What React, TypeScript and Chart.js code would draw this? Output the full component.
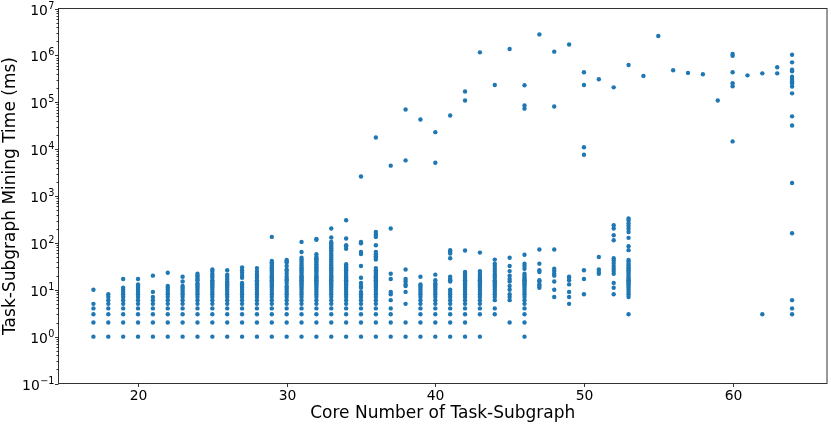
import React, { useRef, useEffect } from 'react';
import { Chart, registerables } from 'chart.js';

Chart.register(...registerables);

// core number of each task-subgraph group
const coreNumbers = [
  17, 18, 19, 20, 21, 22, 23, 24, 25, 26, 27, 28, 29, 30, 31, 32,
  33, 34, 35, 36, 37, 38, 39, 40, 41, 42, 43, 44, 45, 46, 47, 48,
  49, 50, 51, 52, 53, 54, 55, 56, 57, 58, 59, 60, 61, 62, 63, 64,
];

// mining times (ms) per core number, same order as coreNumbers
const miningTimesMs: number[][] = [
  [1, 2, 3, 4, 5, 10],
  [1, 2, 3, 4, 5, 6, 7, 8],
  [1, 2, 3, 4, 5, 6, 7, 8, 9, 10, 11, 17],
  [1, 2, 3, 4, 5, 6, 7, 8, 9, 10, 11, 12, 13, 17],
  [1, 2, 3, 4, 5, 6, 7, 9, 20],
  [1, 2, 3, 4, 5, 6, 7, 8, 9, 10, 11, 12, 23],
  [1, 2, 3, 4, 5, 6, 7, 8, 9, 10, 11, 12, 15, 19],
  [1, 2, 3, 4, 5, 6, 7, 8, 9, 10, 11, 12, 13, 14, 16, 17, 19, 20, 22],
  [1, 2, 3, 4, 5, 6, 7, 8, 9, 10, 11, 12, 13, 14, 15, 16, 18, 20, 22, 25, 27],
  [1, 2, 3, 4, 5, 6, 7, 8, 9, 10, 11, 12, 13, 14, 15, 17, 19, 21, 26],
  [1, 2, 3, 4, 5, 6, 7, 8, 9, 10, 11, 12, 13, 14, 18, 20, 23, 26, 30],
  [1, 2, 3, 4, 5, 6, 7, 8, 9, 10, 11, 12, 13, 14, 15, 16, 18, 20, 22, 25, 29],
  [1, 2, 3, 4, 5, 6, 7, 8, 9, 10, 11, 12, 13, 14, 15, 16, 17, 18, 19, 20, 22, 24, 26, 28, 30, 33, 36, 38, 41, 134],
  [1, 2, 3, 4, 5, 6, 7, 8, 9, 10, 11, 12, 14, 16, 17, 19, 22, 25, 27, 32, 38, 40, 43],
  [1, 2, 3, 4, 5, 6, 7, 8, 9, 10, 11, 12, 13, 14, 15, 16, 17, 18, 19, 20, 22, 24, 26, 28, 30, 33, 36, 40, 44, 48, 64, 105],
  [1, 2, 3, 4, 5, 6, 7, 8, 9, 10, 11, 12, 13, 14, 15, 16, 17, 18, 19, 20, 22, 24, 26, 28, 30, 32, 35, 38, 41, 44, 47, 50, 57, 116, 121],
  [1, 2, 3, 4, 5, 6, 7, 8, 9, 10, 11, 12, 13, 14, 15, 16, 17, 18, 19, 20, 22, 24, 26, 28, 30, 33, 36, 40, 44, 48, 53, 58, 64, 70, 77, 84, 90, 97, 105, 130, 202],
  [1, 2, 3, 4, 5, 6, 7, 8, 9, 10, 11, 12, 13, 14, 15, 16, 17, 18, 19, 20, 22, 24, 26, 28, 30, 32, 35, 75, 85, 89, 124, 303],
  [1, 2, 3, 4, 5, 6, 7, 8, 9, 11, 12, 14, 18, 32, 58, 64, 98, 105, 2600],
  [1, 2, 3, 4, 5, 6, 7, 8, 9, 10, 11, 12, 13, 14, 15, 16, 17, 18, 19, 20, 22, 24, 26, 29, 44, 48, 52, 57, 64, 89, 134, 150, 171, 17700],
  [1, 2, 3, 4, 6, 8, 9, 17, 22, 202, 4440],
  [1, 2, 5, 9, 12, 13, 15, 17, 27, 5750, 70000],
  [1, 2, 3, 4, 5, 6, 7, 8, 9, 10, 11, 12, 13, 19, 42900],
  [1, 2, 3, 4, 5, 6, 7, 8, 9, 10, 11, 12, 13, 14, 16, 21, 5130, 23000],
  [1, 2, 3, 4, 5, 6, 7, 8, 9, 10, 15, 16, 17, 19, 47, 59, 65, 70, 52000],
  [1, 2, 3, 4, 5, 6, 7, 8, 9, 10, 11, 12, 13, 14, 15, 16, 17, 18, 20, 22, 24, 69, 109000, 169000],
  [1, 3, 4, 5, 6, 7, 8, 9, 10, 11, 12, 13, 14, 15, 16, 17, 18, 20, 22, 25, 62, 1160000],
  [3, 4, 6, 7, 8, 9, 10, 11, 12, 13, 14, 15, 16, 18, 20, 22, 25, 28, 32, 36, 44, 234000],
  [2, 6, 7, 8, 10, 12, 15, 17, 20, 25, 32, 48, 1370000],
  [1, 2, 3, 4, 5, 6, 7, 8, 9, 10, 11, 12, 13, 14, 15, 16, 17, 18, 20, 22, 28, 32, 36, 56, 73000, 85000, 230000],
  [11, 12, 13, 15, 16, 24, 26, 36, 72, 2800000],
  [7, 10, 15, 20, 22, 25, 28, 72, 81000, 1200000],
  [5, 7, 9, 13, 16, 18, 19, 1710000],
  [8, 17, 26, 7600, 11000, 234000, 435000],
  [22, 24, 27, 50, 309000],
  [8, 11, 14, 22, 25, 28, 32, 37, 42, 47, 114, 145, 202, 237, 208000],
  [3, 7, 8, 9, 10, 11, 12, 13, 14, 15, 16, 17, 18, 20, 22, 24, 26, 28, 30, 33, 36, 40, 43, 70, 85, 128, 171, 200, 230, 260, 300, 330, 625000],
  [365000],
  [2590000],
  [480000],
  [423000],
  [395000],
  [109000],
  [14600, 219000, 254000, 435000, 985000, 1070000],
  [375000],
  [3, 414000],
  [414000, 556000],
  [3, 4, 6, 160, 1890, 32000, 50000, 155000, 216000, 254000, 280000, 315000, 352000, 457000, 497000, 710000, 1030000],
];

const xTicks = [20, 30, 40, 50, 60];
const yTickExponents = [-1, 0, 1, 2, 3, 4, 5, 6, 7];
const xAxisTitle = 'Core Number of Task-Subgraph';
const yAxisTitle = 'Task-Subgraph Mining Time (ms)';

const FONT = '"DejaVu Sans", sans-serif';
const pointColor = '#1f77b4';
const spineColor = 'rgba(0,0,0,0.8)';

// draws the matplotlib-like frame, ticks, tick labels and axis titles
const axesPlugin = {
  id: 'mplAxes',
  afterDraw(chart: any) {
    const { ctx, chartArea: a, scales } = chart;
    const xs = scales.x;
    const ys = scales.y;
    ctx.save();

    // spines
    ctx.strokeStyle = spineColor;
    ctx.lineWidth = 1;
    ctx.strokeRect(a.left, a.top, a.right - a.left, a.bottom - a.top);

    // x ticks + labels
    ctx.fillStyle = '#000';
    ctx.font = `13.9px ${FONT}`;
    ctx.textAlign = 'center';
    ctx.textBaseline = 'alphabetic';
    xTicks.forEach((t) => {
      const px = Math.round(xs.getPixelForValue(t)) + 0.5;
      ctx.beginPath();
      ctx.moveTo(px, a.bottom);
      ctx.lineTo(px, a.bottom + 3.5);
      ctx.stroke();
      ctx.fillText(String(t), px, 399.5);
    });

    // y minor ticks
    yTickExponents.slice(0, -1).forEach((e) => {
      for (let m = 2; m <= 9; m++) {
        const py = Math.round(ys.getPixelForValue(m * Math.pow(10, e))) + 0.5;
        ctx.beginPath();
        ctx.moveTo(a.left, py);
        ctx.lineTo(a.left - 2, py);
        ctx.stroke();
      }
    });

    // y major ticks + labels 10^e
    yTickExponents.forEach((e) => {
      const py = Math.round(ys.getPixelForValue(Math.pow(10, e))) + 0.5;
      ctx.beginPath();
      ctx.moveTo(a.left, py);
      ctx.lineTo(a.left - 3.5, py);
      ctx.stroke();
      const right = 54.5;
      const expText = e < 0 ? '\u2212' + Math.abs(e) : String(e);
      ctx.textAlign = 'right';
      ctx.font = `9.7px ${FONT}`;
      ctx.fillText(expText, right, py - 0.5);
      const expW = ctx.measureText(expText).width;
      ctx.font = `13.9px ${FONT}`;
      ctx.fillText('10', right - expW - 0.5, py + 5.5);
    });

    // axis titles
    ctx.font = `17px ${FONT}`;
    ctx.textAlign = 'center';
    ctx.fillText(xAxisTitle, (a.left + a.right) / 2, 418.3);
    ctx.translate(14.5, (a.top + a.bottom) / 2);
    ctx.rotate(-Math.PI / 2);
    ctx.fillText(yAxisTitle, 0, 0);
    ctx.restore();
  },
};

const App: React.FC = () => {
  const canvasRef = useRef<HTMLCanvasElement>(null);

  useEffect(() => {
    document.body.style.margin = '0';
    if (!canvasRef.current) return;

    const points = coreNumbers.flatMap((core, i) =>
      miningTimesMs[i].map((t) => ({ x: core, y: t }))
    );

    const chart = new Chart(canvasRef.current, {
      type: 'scatter',
      data: {
        datasets: [
          {
            data: points,
            backgroundColor: pointColor,
            borderWidth: 0,
            pointRadius: 2.2,
          },
        ],
      },
      options: {
        responsive: true,
        maintainAspectRatio: false,
        animation: false,
        events: [],
        layout: { padding: { left: 58.5, right: 2.5, top: 8.5, bottom: 40.5 } },
        plugins: { legend: { display: false }, tooltip: { enabled: false } },
        scales: {
          x: { type: 'linear', min: 14.65, max: 66.35, display: false },
          y: { type: 'logarithmic', min: 0.1, max: 1e7, display: false },
        },
      },
      plugins: [axesPlugin],
    });

    return () => {
      chart.destroy();
    };
  }, []);

  return (
    <div style={{ width: '831px', height: '424px', position: 'relative' }}>
      <canvas ref={canvasRef}></canvas>
    </div>
  );
};

export default App;
